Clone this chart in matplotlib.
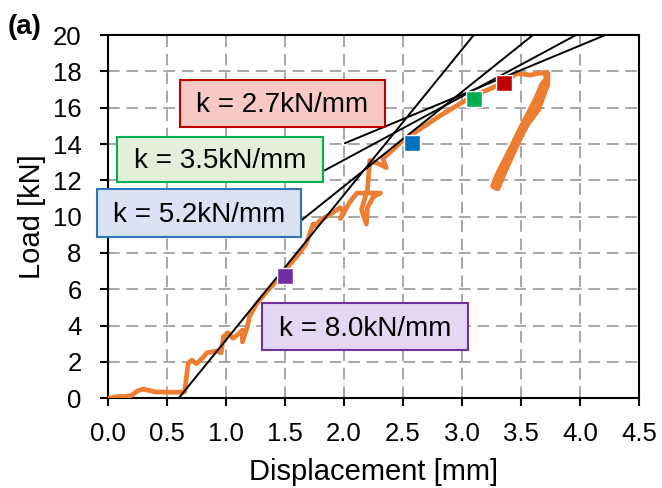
import matplotlib.pyplot as plt
from matplotlib.patches import Rectangle
import numpy as np

plt.rcParams['font.family'] = ['Liberation Sans', 'DejaVu Sans']

disp = [0.0, 0.05, 0.1, 0.15, 0.2, 0.25, 0.3, 0.33, 0.4, 0.5, 0.6, 0.65, 0.68, 0.71, 0.75,
        0.8, 0.84, 0.92, 0.96, 0.98, 1.02, 1.06, 1.1, 1.14, 1.14, 1.18, 1.2, 1.26, 1.35,
        1.45, 1.52, 1.6, 1.68, 1.74, 1.76, 1.8, 1.85, 1.9, 1.97, 2.0, 1.97, 2.05, 2.11,
        2.2, 2.31, 2.25, 2.2, 2.19, 2.15, 2.2, 2.22, 2.3, 2.36, 2.33, 2.4, 2.5, 2.64,
        2.8, 3.03, 3.15, 3.26, 3.4, 3.47, 3.58, 3.65, 3.72, 3.72, 3.64, 3.49, 3.41,
        3.3, 3.27, 3.33, 3.45, 3.55, 3.66, 3.7, 3.62, 3.5, 3.38, 3.29, 3.31, 3.42,
        3.53, 3.63, 3.68]
load = [0.0, 0.05, 0.1, 0.1, 0.15, 0.4, 0.5, 0.45, 0.35, 0.33, 0.33, 0.35, 1.9, 2.1, 1.9,
        2.2, 2.5, 2.6, 2.5, 3.4, 3.6, 3.3, 3.5, 3.75, 3.1, 3.9, 4.5, 5.2, 5.9,
        6.6, 7.2, 7.8, 8.5, 9.6, 9.5, 9.8, 10.0, 10.2, 10.5, 10.2, 9.9, 10.8, 11.3,
        11.3, 11.3, 11.1, 10.5, 9.6, 10.4, 11.5, 13.1, 12.9, 12.7, 13.2, 13.6, 14.2, 14.8,
        15.5, 16.4, 16.8, 17.1, 17.6, 17.9, 17.8, 17.9, 17.9, 17.3, 15.9, 14.6, 13.3,
        11.6, 11.7, 12.6, 14.0, 15.2, 16.6, 17.4, 16.3, 14.8, 13.2, 12.0, 11.9, 13.4,
        14.9, 16.2, 17.2]
peak_idx = 65  # start of the unloading/reloading cycles

# tangent stiffness lines: slope [kN/mm] and start point
k_vals = [8.0, 5.2, 3.5, 2.7]
k_x0 = [0.6, 1.64, 1.84, 2.01]
k_y0 = [0.0, 9.8, 12.56, 14.05]

# marker points
mark_x = [1.5, 2.58, 3.10, 3.36]
mark_y = [6.72, 14.05, 16.47, 17.35]
mark_col = ['#7030A0', '#0070C0', '#00B050', '#C00000']

# label boxes (x0, x1, y0, y1) in data units
box_ext = [(1.305, 3.05, 2.64, 5.23), (-0.09, 1.64, 8.9, 11.5),
           (0.08, 1.82, 11.9, 14.4), (0.61, 2.35, 14.93, 17.52)]
box_face = ['#E4D7F4', '#DAE3F3', '#E2F0D9', '#F8C8C2']
box_edge = ['#7030A0', '#2E75B6', '#00B050', '#C00000']

fig = plt.figure(figsize=(6.62, 4.88), dpi=100)
ax = fig.add_axes([0.163, 0.184, 0.802, 0.744])

ax.plot(disp[:peak_idx + 1], load[:peak_idx + 1], color='#ED7D31', lw=3.4,
        solid_joinstyle='round', solid_capstyle='round', zorder=3)
ax.plot(disp[peak_idx:], load[peak_idx:], color='#ED7D31', lw=5,
        solid_joinstyle='round', solid_capstyle='round', zorder=3)

for k, x0, y0 in zip(k_vals, k_x0, k_y0):
    x1 = x0 + (20 - y0) / k
    xs = np.array([x0, x1])
    ax.plot(xs, y0 + k * (xs - x0), color='black', lw=1.4, zorder=4)

for x, y, c in zip(mark_x, mark_y, mark_col):
    ax.plot(x, y, 's', ms=12, color=c, mec='white', mew=1, zorder=5)

for k, (bx0, bx1, by0, by1), fc, ec in zip(k_vals, box_ext, box_face, box_edge):
    ax.add_patch(Rectangle((bx0, by0), bx1 - bx0, by1 - by0, facecolor=fc,
                           edgecolor=ec, lw=1.5, zorder=6, clip_on=False))
    ax.text((bx0 + bx1) / 2, (by0 + by1) / 2 - 0.1, 'k = {:.1f}kN/mm'.format(k),
            ha='center', va='center', fontsize=20, zorder=7, clip_on=False)

ax.set_xlim(0, 4.5)
ax.set_ylim(0, 20)
ax.set_xticks(np.arange(0, 4.51, 0.5))
ax.set_yticks(np.arange(0, 21, 2))
ax.set_xticklabels(['{:.1f}'.format(v) for v in np.arange(0, 4.51, 0.5)])
ax.grid(True, color='#A6A6A6', ls=(0, (6, 3.5)), lw=1.4)
ax.set_axisbelow(True)
for s in ax.spines.values():
    s.set_linewidth(1.5)
ax.tick_params(direction='out', length=6, width=1.5, labelsize=18.5)
ax.tick_params(axis='x', pad=11)
ax.tick_params(axis='y', pad=13)
ax.set_xlabel('Displacement [mm]', fontsize=21, labelpad=9)
ax.set_ylabel('Load [kN]', fontsize=21, labelpad=5)

fig.text(0.012, 0.93, '(a)', fontsize=20, fontweight='bold')

plt.savefig('out.png', dpi=100)
